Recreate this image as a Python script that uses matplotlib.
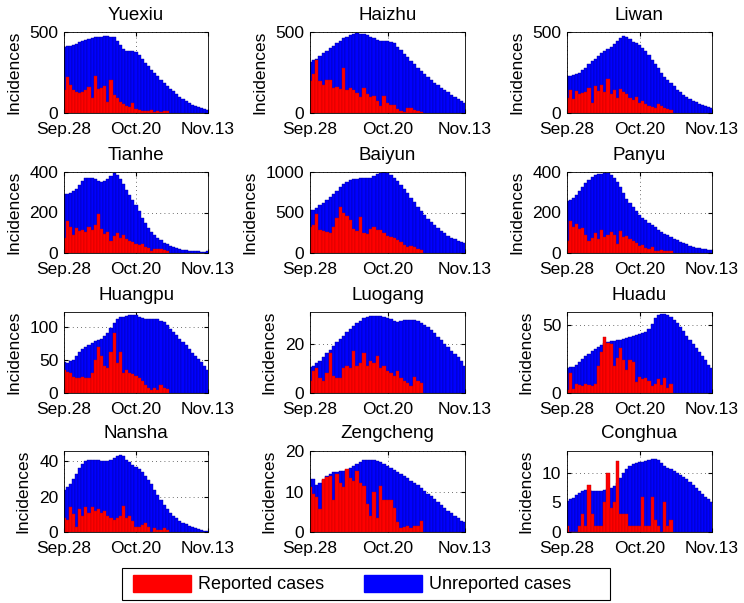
import numpy as np
import matplotlib
matplotlib.use('Agg')
import matplotlib.pyplot as plt
from matplotlib.patches import Patch, Rectangle

plt.rcParams['font.family'] = ['Liberation Sans', 'DejaVu Sans']

# 数据：每个区的估计总病例(蓝)和报告病例(红)，从 Sep.28 开始逐日
district_names = ['Yuexiu', 'Haizhu', 'Liwan', 'Tianhe', 'Baiyun', 'Panyu',
                  'Huangpu', 'Luogang', 'Huadu', 'Nansha', 'Zengcheng', 'Conghua']
tick_labels = ['Sep.28', 'Oct.20', 'Nov.13']

yuexiu_total = [410, 412, 415, 420, 428, 437, 445, 452, 458, 463, 467, 470, 472, 473, 473, 472,
                470, 445, 420, 395, 385, 383, 382, 375, 355, 332, 310, 290, 268, 247, 228, 205,
                185, 168, 150, 133, 115, 100, 85, 72, 60, 50, 42, 35, 28, 24, 20]
yuexiu_reported = [145, 225, 170, 145, 130, 125, 130, 140, 160, 95, 230, 150, 155, 165, 70, 205,
                   110, 95, 70, 55, 45, 35, 60, 25, 20, 15, 12, 10, 18, 8, 10, 5, 15, 12]

haizhu_total = [315, 325, 335, 350, 368, 385, 400, 415, 430, 445, 460, 472, 482, 490, 492, 490,
                486, 480, 472, 462, 452, 445, 443, 443, 440, 430, 410, 390, 367, 345, 322, 300,
                280, 262, 243, 225, 205, 188, 170, 155, 140, 127, 112, 98, 85, 72, 60]
haizhu_reported = [200, 240, 330, 200, 170, 205, 205, 155, 160, 150, 275, 140, 155, 145, 125, 100,
                   155, 120, 100, 102, 75, 45, 102, 60, 50, 50, 25, 10, 5, 30, 28, 20, 15, 8]

liwan_total = [228, 230, 233, 240, 250, 265, 280, 300, 318, 335, 352, 368, 380, 392, 405, 425,
               445, 462, 475, 470, 455, 440, 430, 418, 400, 385, 360, 330, 300, 275, 250, 225,
               205, 185, 165, 145, 128, 113, 100, 88, 77, 67, 58, 50, 42, 37, 33]
liwan_reported = [90, 140, 85, 135, 120, 125, 130, 155, 60, 165, 135, 175, 130, 210, 120, 145,
                  95, 150, 130, 115, 95, 80, 100, 60, 75, 55, 45, 40, 30, 55, 45, 30, 25, 20]

tianhe_total = [290, 292, 295, 305, 318, 335, 355, 368, 372, 370, 365, 358, 352, 355, 365, 380,
                395, 385, 365, 340, 310, 285, 262, 235, 205, 175, 150, 125, 105, 88, 75, 62,
                50, 42, 35, 28, 23, 19, 16, 13, 11, 10, 9, 8, 7, 7, 8]
tianhe_reported = [75, 160, 130, 90, 125, 110, 115, 105, 130, 115, 140, 195, 120, 95, 105, 60,
                   85, 100, 75, 90, 70, 60, 55, 45, 40, 45, 30, 25, 10, 20, 18, 20, 15, 10]

baiyun_total = [525, 535, 560, 590, 620, 655, 690, 730, 770, 810, 850, 880, 900, 910, 915, 920,
                922, 925, 930, 950, 975, 992, 995, 985, 960, 925, 885, 840, 790, 735, 680, 625,
                570, 520, 470, 425, 380, 340, 305, 275, 245, 215, 190, 170, 150, 135, 120]
baiyun_reported = [320, 350, 480, 280, 270, 260, 250, 320, 430, 570, 500, 460, 410, 300, 270, 440,
                   250, 240, 300, 320, 290, 280, 250, 210, 200, 180, 160, 130, 100, 80, 90, 70, 50, 40]

panyu_total = [255, 262, 270, 285, 305, 325, 345, 362, 375, 383, 388, 392, 395, 393, 385, 372,
               352, 325, 295, 268, 245, 225, 205, 190, 175, 162, 150, 138, 127, 116, 106, 96,
               87, 78, 70, 62, 55, 48, 42, 36, 31, 27, 23, 20, 18, 17, 16]
panyu_reported = [60, 160, 130, 145, 120, 125, 90, 60, 75, 100, 70, 115, 80, 90, 105, 90,
                  45, 110, 80, 85, 70, 60, 50, 35, 40, 25, 20, 30, 12, 10, 15, 12, 10, 8]

huangpu_total = [46, 45, 48, 50, 55, 62, 67, 70, 73, 76, 78, 80, 82, 86, 91, 98,
                 106, 112, 114, 115, 116, 117, 118, 117, 115, 113, 111, 111, 112, 112, 111, 109,
                 107, 102, 97, 92, 87, 82, 77, 72, 67, 61, 56, 51, 46, 41, 35]
huangpu_reported = [35, 32, 30, 24, 22, 23, 24, 22, 23, 30, 50, 70, 55, 40, 38, 62,
                    90, 45, 62, 30, 35, 30, 28, 25, 22, 18, 12, 8, 4, 8, 5, 12, 8, 6]

luogang_total = [10.5, 11, 12, 13, 14.5, 16, 17.5, 19, 20.5, 22, 23.2, 24.5, 25.8, 27, 28.2, 29.3,
                 30.2, 30.7, 31, 31, 31.1, 31, 30.8, 30.4, 29.8, 29.2, 28.9, 29, 29.4, 29.7, 29.7, 29.5,
                 29.2, 28.5, 27.6, 26.6, 25.5, 24.2, 22.8, 21.4, 20, 18.6, 17.2, 15.8, 14.4, 12.8, 11]
luogang_reported = [5, 9, 10, 6, 5, 8, 16, 7, 6, 6, 10, 11, 10, 17, 11, 12,
                    16, 11, 13, 12, 15, 10, 11, 9, 8, 7, 9, 6, 5, 4, 3, 6.5, 5, 4]

huadu_total = [18.5, 19, 19.5, 21, 23, 25, 27, 29, 31, 32.5, 34, 35.5, 36.5, 37.5, 38, 38.5,
               38.8, 39, 39.5, 40.5, 41.5, 42.3, 43, 43.6, 44.2, 45, 47, 51, 55, 57.5, 58.3, 58,
               57.5, 56, 54, 51.5, 48.5, 45.5, 42, 39, 36, 33, 30, 27, 24, 21, 18.5]
huadu_reported = [2, 15, 3, 7, 6, 5, 7, 6, 5, 7, 20, 30, 41, 37, 36, 20,
                  26, 33, 24, 17, 24, 23, 8, 12, 10, 11, 9, 5, 7, 10, 6, 11, 4, 7]

nansha_total = [24, 25.5, 27, 30, 33, 36, 38.5, 40, 40.7, 41, 41, 40.8, 40.3, 40, 40.3, 41,
                42, 43.3, 43.8, 43, 41, 39.5, 38, 36.8, 35.5, 33.8, 32, 29.5, 27, 24, 21, 18,
                15.5, 13, 11, 9.3, 7.8, 6.5, 5.3, 4.4, 3.5, 2.8, 2.2, 1.6, 1.2, 0.8, 0.5]
nansha_reported = [8, 7, 14, 10, 3, 13, 9, 14, 11, 14, 12, 13, 11, 12, 9, 8,
                   7, 8, 9, 15, 8, 9, 6, 3, 3, 4, 5, 3, 0, 2, 1, 1, 2, 1]

zengcheng_total = [13.2, 13, 11.6, 12, 12.8, 13.8, 14.2, 14.7, 14.9, 15, 15.1, 15.4, 15.8, 16.3, 16.9, 17.3,
                   17.7, 17.9, 17.9, 17.8, 17.6, 17.2, 16.8, 16.3, 15.8, 15.3, 14.8, 14.3, 13.8, 13.3, 12.7, 12.1,
                   11.5, 10.9, 10.2, 9.5, 8.8, 8.1, 7.4, 6.7, 6, 5.3, 4.6, 4, 3.4, 2.8, 2.4]
zengcheng_reported = [11.2, 9.5, 8.7, 5.7, 13, 13.5, 13.8, 8, 14.3, 12, 11, 15.6, 13.4, 12.6, 15, 12,
                      11.3, 7, 4, 10, 3.5, 11.3, 7.8, 7.8, 7.8, 6, 2.5, 1, 1.2, 1.5, 1, 1.5, 1.5, 2.8]

conghua_total = [5.3, 5.5, 5.8, 6.2, 6.6, 6.9, 7.1, 7.1, 7.0, 6.9, 6.9, 7.0, 7.1, 7.3, 7.5, 7.7,
                 8.3, 9.1, 9.9, 10.6, 11.1, 11.5, 11.7, 11.8, 11.9, 12, 12.1, 12.3, 12.3, 12.1, 11.6, 11.1,
                 10.8, 10.6, 10.3, 10, 9.7, 9.3, 8.9, 8.4, 7.9, 7.4, 6.9, 6.5, 6, 5.5, 5]
conghua_reported = [1, 0, 0, 0, 1, 3, 1, 8, 3, 1, 1, 1, 5, 10, 4, 5,
                    12, 3, 3, 3, 1, 1, 1, 1, 6, 1, 1, 6, 2, 1, 0, 5, 1, 2]

totals = [yuexiu_total, haizhu_total, liwan_total, tianhe_total, baiyun_total, panyu_total,
          huangpu_total, luogang_total, huadu_total, nansha_total, zengcheng_total, conghua_total]
reported = [yuexiu_reported, haizhu_reported, liwan_reported, tianhe_reported, baiyun_reported,
            panyu_reported, huangpu_reported, luogang_reported, huadu_reported, nansha_reported,
            zengcheng_reported, conghua_reported]

# 坐标轴范围和刻度
y_tops = [500, 500, 500, 400, 1000, 400, 122, 32.8, 59.7, 45.9, 20, 13.7]
y_ticks = [[0, 500], [0, 500], [0, 500], [0, 200, 400], [0, 500, 1000], [0, 200, 400],
           [0, 50, 100], [0, 20], [0, 50], [0, 20, 40], [0, 10, 20], [0, 5, 10]]

W, H = 744, 603
fig = plt.figure(figsize=(W / 100, H / 100), dpi=100)

col_left = [64, 310, 567]
col_width = [144, 155, 145]
row_top = [32, 172, 312, 451]
ax_h = 81

for k in range(12):
    r, c = divmod(k, 3)
    ax = fig.add_axes([col_left[c] / W, 1 - (row_top[r] + ax_h) / H,
                       col_width[c] / W, ax_h / H])
    tot = np.array(totals[k])
    rep = np.array(reported[k])
    days = np.arange(1, len(tot) + 1)
    ax.bar(days, tot, width=1, color='#0000ff', edgecolor='#00009a', linewidth=0.3)
    ax.bar(days[:len(rep)], rep, width=1, color='#ff0000', edgecolor='#c00000', linewidth=0.3)
    ax.set_xlim(1, len(tot))
    ax.set_ylim(0, y_tops[k])
    ax.set_xticks([1, (len(tot) + 1) / 2, len(tot)])
    ax.set_xticklabels(tick_labels)
    ax.set_yticks(y_ticks[k])
    ax.set_axisbelow(True)
    ax.grid(True, linestyle=(0, (1, 4)), color='0.25', linewidth=0.6)
    ax.tick_params(direction='in', top=True, right=True, length=3, labelsize=12.5)
    ax.tick_params(axis='x', pad=6.5)
    ax.tick_params(axis='y', pad=4)
    ax.set_title(district_names[k], fontsize=13.5, pad=9)
    ax.set_ylabel('Incidences', fontsize=12.5, labelpad=6)
    for s in ax.spines.values():
        s.set_linewidth(0.6)

# 图例（外框单独画）
handles = [Patch(facecolor='#ff0000', edgecolor='#ff0000'),
           Patch(facecolor='#0000ff', edgecolor='#0000ff')]
leg = fig.legend(handles, ['Reported cases', 'Unreported cases'], loc='center left',
                 bbox_to_anchor=(133 / W, 1 - 584 / H), ncol=2, fontsize=13,
                 frameon=False, handlelength=3.2, handleheight=1.1,
                 handletextpad=0.4, columnspacing=2.2, borderpad=0, borderaxespad=0)
fig.patches.append(Rectangle((122 / W, 1 - 600 / H), 488 / W, 32 / H,
                             transform=fig.transFigure, fill=False,
                             edgecolor='black', linewidth=0.8))

fig.savefig('out.png', dpi=100)
